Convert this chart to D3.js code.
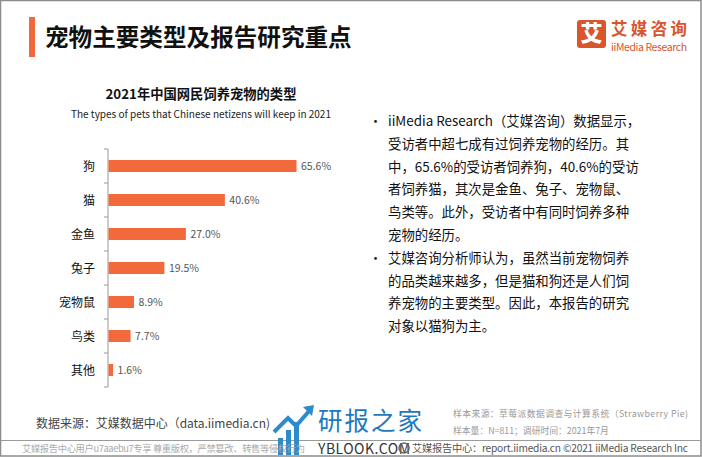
<!DOCTYPE html>
<html><head><meta charset="utf-8">
<script src="https://cdn.jsdelivr.net/npm/d3@7"></script>
<style>
html,body{margin:0;padding:0;background:#fff;}
svg{display:block;}
text{font-family:"Noto Sans CJK SC","Noto Sans",sans-serif;}
</style></head>
<body>
<script>
// ---- data ----
const categories = ["狗", "猫", "金鱼", "兔子", "宠物鼠", "鸟类", "其他"];
const values = [65.6, 40.6, 27.0, 19.5, 8.9, 7.7, 1.6];
const pageTitle = "宠物主要类型及报告研究重点";
const chartTitle = "2021年中国网民饲养宠物的类型";
const chartSubtitle = "The types of pets that Chinese netizens will keep in 2021";
const bullet1 = ["iiMedia Research（艾媒咨询）数据显示，", "受访者中超七成有过饲养宠物的经历。其", "中，65.6%的受访者饲养狗，40.6%的受访", "者饲养猫，其次是金鱼、兔子、宠物鼠、", "鸟类等。此外，受访者中有同时饲养多种", "宠物的经历。"];
const bullet2 = ["艾媒咨询分析师认为，虽然当前宠物饲养", "的品类越来越多，但是猫和狗还是人们饲", "养宠物的主要类型。因此，本报告的研究", "对象以猫狗为主。"];
const sourceText = "数据来源：艾媒数据中心（data.iimedia.cn)";
const sampleLines = ["样本来源：草莓派数据调查与计算系统（Strawberry Pie)", "样本量：N=811；调研时间：2021年7月"];
const footerLeft = "艾媒报告中心用户u7aaebu7专享 尊重版权，严禁篡改、转售等侵权行为";
const footerRight = "艾媒报告中心：report.iimedia.cn ©2021  iiMedia Research  Inc";

const W = 702, H = 457;
const orange = "#F26A3C";
const svg = d3.select("body").append("svg").attr("width", W).attr("height", H);

// frame
svg.append("rect").attr("x", 0.5).attr("y", 0.5).attr("width", W - 1.5).attr("height", H - 1.5)
  .attr("fill", "none").attr("stroke", "#8c8c8c").attr("stroke-width", 1.5);
svg.append("line").attr("x1", 1).attr("x2", W - 1).attr("y1", 440.5).attr("y2", 440.5)
  .attr("stroke", "#9a9a9a").attr("stroke-width", 1);

// header
svg.append("rect").attr("x", 29).attr("y", 17).attr("width", 6).attr("height", 40).attr("fill", orange);
svg.append("text").attr("x", 45).attr("y", 46).attr("font-size", 23.6).attr("font-weight", 700)
  .attr("fill", "#111").text(pageTitle);

// logo
const logo = svg.append("g");
logo.append("rect").attr("x", 577).attr("y", 20).attr("width", 29).attr("height", 28).attr("rx", 3).attr("fill", "#D9552C");
logo.append("text").attr("x", 591.5).attr("y", 41).attr("text-anchor", "middle").attr("font-size", 22)
  .attr("font-weight", 900).attr("fill", "#fff").text("艾");
logo.append("text").attr("x", 611).attr("y", 35).attr("font-size", 16.5).attr("font-weight", 700)
  .attr("textLength", 76).attr("fill", "#D9552C").text("艾媒咨询");
logo.append("text").attr("x", 611).attr("y", 51).attr("font-size", 10.5).attr("textLength", 76)
  .attr("fill", "#D9552C").attr("font-family", "'Open Sans',sans-serif").text("iiMedia Research");

// chart titles
svg.append("text").attr("x", 201).attr("y", 99).attr("text-anchor", "middle").attr("font-size", 13.3)
  .attr("font-weight", 700).attr("fill", "#111").text(chartTitle);
svg.append("text").attr("x", 201).attr("y", 118).attr("text-anchor", "middle").attr("font-size", 10)
  .attr("fill", "#222").attr("font-family", "'Open Sans','Noto Sans',sans-serif").text(chartSubtitle);

// scales
const y = d3.scaleBand().domain(categories).range([149, 387]).padding(0);
const x = d3.scaleLinear().domain([0, 100]).range([108, 394.6]);
const barH = 12;

// axis
const ax = svg.append("g");
ax.append("line").attr("x1", x(0)).attr("x2", x(0)).attr("y1", y.range()[0]).attr("y2", y.range()[1])
  .attr("stroke", "#999").attr("stroke-width", 1);
const tickYs = categories.map(c => y(c)).concat([y.range()[1]]);
ax.selectAll("line.tick").data(tickYs).join("line").attr("class", "tick")
  .attr("x1", x(0) - 4).attr("x2", x(0)).attr("y1", d => d).attr("y2", d => d)
  .attr("stroke", "#999").attr("stroke-width", 1);

// bars
svg.selectAll("rect.bar").data(categories).join("rect").attr("class", "bar")
  .attr("x", x(0) + 0.5).attr("y", c => y(c) + y.bandwidth() / 2 - barH / 2)
  .attr("width", (c, i) => x(values[i]) - x(0)).attr("height", barH).attr("fill", orange);

// category labels
svg.selectAll("text.cat").data(categories).join("text").attr("class", "cat")
  .attr("x", 95).attr("y", c => y(c) + y.bandwidth() / 2 + 4.5).attr("text-anchor", "end")
  .attr("font-size", 12).attr("fill", "#111").text(c => c);

// value labels
svg.selectAll("text.val").data(categories).join("text").attr("class", "val")
  .attr("x", (c, i) => x(values[i]) + 5).attr("y", c => y(c) + y.bandwidth() / 2 + 4)
  .attr("font-size", 10.5).attr("fill", "#555").attr("font-family", "'Open Sans','Noto Sans',sans-serif")
  .text((c, i) => values[i].toFixed(1) + "%");

// bullets
const lh = 22.8;
let ly = 126;
[bullet1, bullet2].forEach(lines => {
  svg.append("text").attr("x", 369).attr("y", ly).attr("font-size", 13).attr("fill", "#222").text("•");
  lines.forEach(l => {
    svg.append("text").attr("x", 388).attr("y", ly).attr("font-size", 13.4).attr("fill", "#111").text(l);
    ly += lh;
  });
});

// source
svg.append("text").attr("x", 36).attr("y", 428).attr("font-size", 12).attr("fill", "#444")
  .attr("textLength", 234).text(sourceText);
sampleLines.forEach((s, i) => {
  const t = svg.append("text").attr("x", 453).attr("y", 417 + i * 17).attr("font-size", 8.8)
    .attr("fill", "#999").text(s);
  if (i === 0) t.attr("textLength", 235);
});

// watermark
const wm = svg.append("g");
[[278, 438], [286, 430], [294, 422]].forEach(([bx, by]) => {
  wm.append("rect").attr("x", bx).attr("y", by).attr("width", 5).attr("height", 455 - by).attr("fill", "#2D8ACB");
});
wm.append("path").attr("d", "M274,432 L288,418 L296,426 L310,410").attr("fill", "none")
  .attr("stroke", "#2D8ACB").attr("stroke-width", 4);
wm.append("path").attr("d", "M303,407 L314,405 L312,416 Z").attr("fill", "#2D8ACB");
wm.append("text").attr("x", 318).attr("y", 430).attr("font-size", 24.5).attr("fill", "#1E78BE")
  .attr("textLength", 104).text("研报之家");
wm.append("text").attr("x", 318).attr("y", 454).attr("font-size", 14).attr("fill", "#333")
  .attr("textLength", 92).attr("font-family", "'DejaVu Sans',sans-serif").text("YBLOOK.COM");

// footer
svg.append("text").attr("x", 22).attr("y", 452).attr("font-size", 9.3).attr("fill", "#aaa")
  .attr("textLength", 283).text(footerLeft);
svg.append("circle").attr("cx", 404).attr("cy", 448).attr("r", 5).attr("fill", "none").attr("stroke", "#666").attr("stroke-width", 1.5);
svg.append("text").attr("x", 412).attr("y", 452).attr("font-size", 10.2).attr("fill", "#555")
  .attr("textLength", 276).text(footerRight);
</script>
</body></html>
